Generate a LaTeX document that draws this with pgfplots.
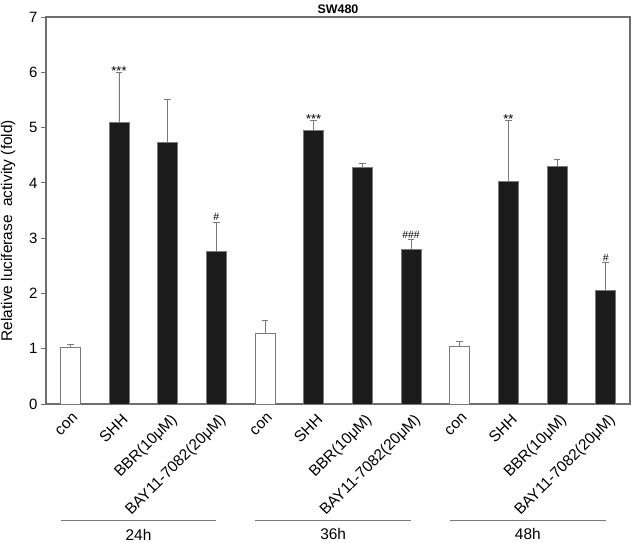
\documentclass[border=0pt]{standalone}
\usepackage{fontspec}
\setmainfont{Liberation Sans}
\usepackage{pgfplots}
\pgfplotsset{compat=1.18}

\definecolor{barblack}{HTML}{1B1B1B}
\definecolor{edgegray}{HTML}{7A7A7A}
\definecolor{framegray}{HTML}{6E6E6E}

\begin{document}
\begin{tikzpicture}

\begin{axis}[
  at={(0,0)}, anchor=south west,
  scale only axis,
  width=584bp, height=387bp,
  xmin=-0.5, xmax=11.5,
  ymin=0, ymax=7,
  ytick={0,1,...,7},
  xtick={0,1,...,11},
  xticklabels={con,SHH,BBR(10μM),BAY11-7082(20μM),
               con,SHH,BBR(10μM),BAY11-7082(20μM),
               con,SHH,BBR(10μM),BAY11-7082(20μM)},
  x tick label style={rotate=45, anchor=north east, inner sep=1bp,
                      yshift=-3bp, font=\fontsize{15.5}{15.5}\selectfont},
  xtick style={draw=none},
  ytick pos=left,
  tick align=outside,
  major tick length=5bp,
  ytick style={framegray, line width=0.9bp},
  axis line style={framegray, line width=1.1bp},
  y tick label style={font=\fontsize{15}{15}\selectfont},
  /pgf/number format/assume math mode=true,
  ylabel={Relative luciferase\ \ activity (fold)},
  ylabel style={at={(axis description cs:-0.052,0.448)}, anchor=south,
                inner sep=0pt, font=\fontsize{15.5}{15.5}\selectfont},
  title={\textbf{SW480}},
  every axis title shift=0pt,
  title style={at={(axis description cs:0.5,1)}, anchor=base, yshift=4bp,
               inner sep=0pt, font=\fontsize{12.5}{12.5}\selectfont},
  clip=false,
  ]

% control bars (white)
\addplot[ybar, bar width=0.41, bar shift=0pt, fill=white, draw=edgegray,
         line width=0.9bp,
         error bars/.cd, y dir=plus, y explicit,
         error bar style={edgegray, line width=0.9bp},
         error mark options={rotate=90, mark size=3.3bp, edgegray, line width=0.9bp}]
  table[x=x, y=y, y error=e] {
x y e
0 1.03 0.04
4 1.27 0.24
8 1.05 0.08
};

% treated bars (black)
\addplot[ybar, bar width=0.41, bar shift=0pt, fill=barblack, draw=edgegray,
         line width=0.9bp,
         error bars/.cd, y dir=plus, y explicit,
         error bar style={edgegray, line width=0.9bp},
         error mark options={rotate=90, mark size=3.3bp, edgegray, line width=0.9bp}]
  table[x=x, y=y, y error=e] {
x y e
1 5.10 0.90
2 4.73 0.78
3 2.76 0.53
5 4.95 0.18
6 4.27 0.08
7 2.79 0.18
9 4.02 1.10
10 4.29 0.14
11 2.05 0.51
};

% significance marks
\begin{scope}[every node/.style={inner sep=0pt, anchor=south}]
\node[font=\fontsize{13}{13}\selectfont, yshift=-3bp] at (axis cs:1,6.00) {***};
\node[font=\fontsize{13}{13}\selectfont, yshift=-3bp] at (axis cs:5,5.13) {***};
\node[font=\fontsize{13}{13}\selectfont, yshift=-3bp] at (axis cs:9,5.12) {**};
\node[font=\fontsize{10.5}{10.5}\selectfont, yshift=1bp] at (axis cs:3,3.29) {\#};
\node[font=\fontsize{10.5}{10.5}\selectfont, yshift=1bp] at (axis cs:7,2.97) {\#\#\#};
\node[font=\fontsize{10.5}{10.5}\selectfont, yshift=1bp] at (axis cs:11,2.56) {\#};
\end{scope}

% time groups
\draw[edgegray, line width=0.9bp] (axis cs:-0.2,-2.10) -- (axis cs:3.0,-2.10);
\draw[edgegray, line width=0.9bp] (axis cs:3.8,-2.10) -- (axis cs:7.0,-2.10);
\draw[edgegray, line width=0.9bp] (axis cs:7.8,-2.10) -- (axis cs:11.0,-2.10);
\begin{scope}[every node/.style={inner sep=0pt, font=\fontsize{15.5}{15.5}\selectfont}]
\node at (axis cs:1.4,-2.36) {24h};
\node at (axis cs:5.4,-2.36) {36h};
\node at (axis cs:9.4,-2.36) {48h};
\end{scope}

\end{axis}

\pgfresetboundingbox
\path[use as bounding box] (-46bp,-139bp) rectangle (585bp,404bp);

\end{tikzpicture}
\end{document}
